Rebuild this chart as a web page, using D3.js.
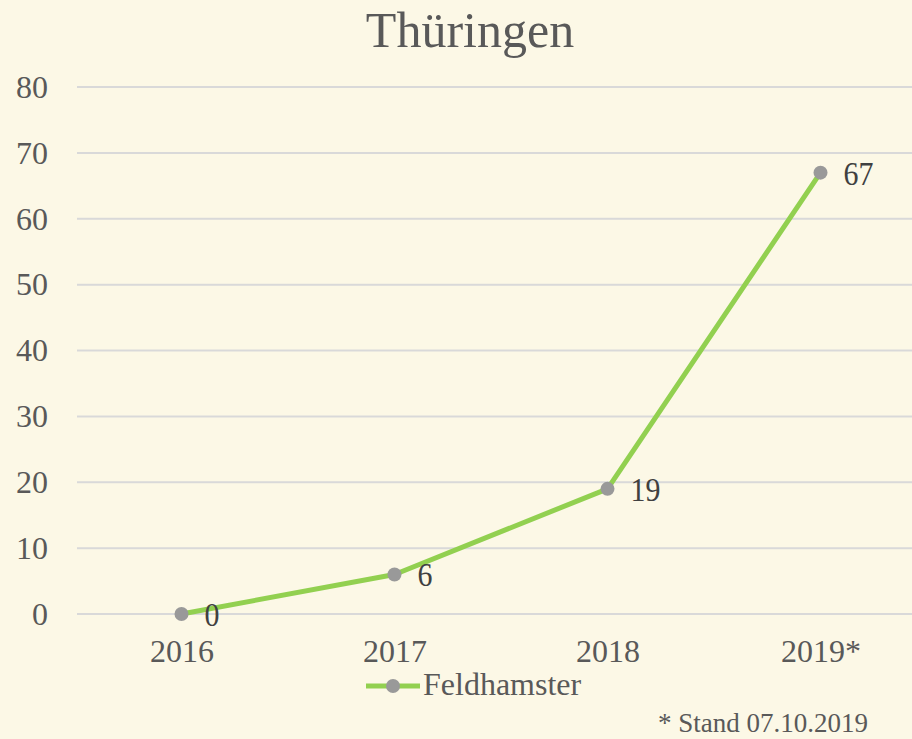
<!DOCTYPE html>
<html>
<head>
<meta charset="utf-8">
<script src="https://cdn.jsdelivr.net/npm/d3@7"></script>
<style>
  html, body { margin: 0; padding: 0; background: #FCF8E6; }
  text { font-family: "Liberation Serif", "Times New Roman", serif; }
</style>
</head>
<body>
<script>
// Data
var years = ["2016", "2017", "2018", "2019*"];
var hamsters = [0, 6, 19, 67];
var yTicks = [0, 10, 20, 30, 40, 50, 60, 70, 80];

var width = 912, height = 739;

var svg = d3.select("body").append("svg")
    .attr("width", width).attr("height", height);

svg.append("rect").attr("width", width).attr("height", height).attr("fill", "#FCF8E6");

var x = d3.scalePoint().domain(years).range([75, 927]).padding(0.5);
var y = d3.scaleLinear().domain([0, 80]).range([614, 87]);

// Gridlines
svg.append("g").selectAll("line").data(yTicks).enter().append("line")
    .attr("x1", 77).attr("x2", width)
    .attr("y1", function(d) { return y(d); })
    .attr("y2", function(d) { return y(d); })
    .attr("stroke", "#D9D9D9").attr("stroke-width", 2);

// Y axis labels
var yAxis = svg.append("g").attr("transform", "translate(48,0)")
    .call(d3.axisLeft(y).tickValues(yTicks).tickSize(0).tickPadding(0));
yAxis.select(".domain").remove();
yAxis.selectAll("text")
    .attr("font-size", 32)
    .attr("fill", "#595959");

// X axis labels
var xAxis = svg.append("g").attr("transform", "translate(0,639)")
    .call(d3.axisBottom(x).tickSize(0).tickPadding(0));
xAxis.select(".domain").remove();
xAxis.selectAll("text")
    .attr("font-size", 32)
    .attr("fill", "#595959");

// Title
svg.append("text").attr("x", 470).attr("y", 47)
    .attr("text-anchor", "middle").attr("font-size", 50)
    .attr("fill", "#595959").text("Thüringen");

// Line
var line = d3.line()
    .x(function(d, i) { return x(years[i]); })
    .y(function(d) { return y(d); });

svg.append("path").datum(hamsters)
    .attr("d", line).attr("fill", "none")
    .attr("stroke", "#92D050").attr("stroke-width", 5)
    .attr("stroke-linejoin", "round");

// Markers
svg.append("g").selectAll("circle").data(hamsters).enter().append("circle")
    .attr("cx", function(d, i) { return x(years[i]); })
    .attr("cy", function(d) { return y(d); })
    .attr("r", 7).attr("fill", "#999999");

// Data labels (slightly condensed, like the original)
svg.append("g").selectAll("text").data(hamsters).enter().append("text")
    .attr("transform", function(d, i) {
        return "translate(" + (x(years[i]) + 23) + "," + (y(d) + 12) + ") scale(0.88,1)";
    })
    .attr("font-size", 34).attr("fill", "#404040")
    .text(function(d) { return d; });

// Legend
var legend = svg.append("g");
legend.append("line").attr("x1", 366).attr("x2", 420)
    .attr("y1", 686).attr("y2", 686)
    .attr("stroke", "#92D050").attr("stroke-width", 5);
legend.append("circle").attr("cx", 393).attr("cy", 686).attr("r", 7).attr("fill", "#999999");
legend.append("text").attr("x", 423).attr("y", 695)
    .attr("font-size", 32).attr("fill", "#595959").text("Feldhamster");

// Footnote
svg.append("text").attr("x", 868).attr("y", 732)
    .attr("text-anchor", "end").attr("font-size", 27)
    .attr("fill", "#595959").text("* Stand 07.10.2019");
</script>
</body>
</html>
